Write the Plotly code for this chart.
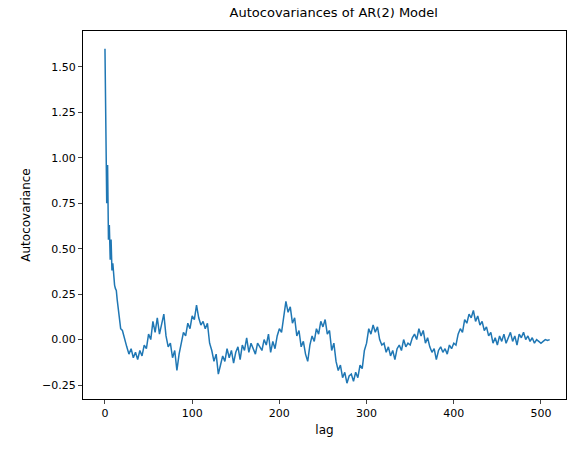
import numpy as np
import plotly.graph_objects as go

# early lags, one per lag
head_acov = [1.6, 1.15, 0.75, 0.96, 0.55, 0.63, 0.44, 0.55, 0.38, 0.42, 0.33, 0.3,
             0.28, 0.27, 0.22, 0.17, 0.12, 0.1, 0.06]
# lags 20..510 every 2.5
tail_acov = [
    0.05, 0.0, -0.04, -0.08, -0.05, -0.1, -0.07, -0.11, -0.06, -0.09, -0.03, -0.05,
    0.03, 0.0, 0.1, 0.04, 0.12, 0.03, 0.08, 0.14, 0.02, -0.04, -0.02, -0.1,
    -0.06, -0.17, -0.08, -0.02, 0.04, 0.02, 0.09, 0.06, 0.13, 0.11, 0.19, 0.12,
    0.08, 0.1, 0.06, 0.09, -0.02, -0.06, -0.12, -0.08, -0.19, -0.14, -0.09, -0.12,
    -0.05, -0.1, -0.06, -0.13, -0.07, -0.04, -0.11, -0.03, -0.06, 0.01, -0.07, -0.02,
    -0.05, -0.08, -0.02, -0.04, -0.06, 0.0, -0.03, 0.03, -0.07, -0.01, -0.05, 0.02,
    0.06, 0.04, 0.13, 0.21, 0.15, 0.18, 0.09, 0.12, 0.02, 0.05, -0.04, -0.01,
    -0.08, -0.12, -0.03, 0.02, -0.01, 0.06, 0.03, 0.1, 0.07, 0.11, 0.03, 0.05,
    -0.06, -0.02, -0.12, -0.17, -0.14, -0.21, -0.18, -0.24, -0.2, -0.19, -0.23, -0.18,
    -0.21, -0.14, -0.16, -0.06, -0.02, 0.06, 0.03, 0.08, 0.04, 0.07, 0.0, -0.03,
    -0.02, -0.07, -0.04, -0.09, -0.06, -0.11, -0.05, -0.03, -0.06, 0.0, -0.04, -0.02,
    -0.03, 0.01, 0.03, 0.0, 0.06, 0.02, 0.05, -0.02, 0.01, -0.04, -0.07, -0.05,
    -0.11, -0.06, -0.04, -0.07, -0.05, -0.08, -0.03, -0.05, -0.02, -0.03, 0.03, 0.06,
    0.04, 0.11, 0.09, 0.14, 0.12, 0.16, 0.1, 0.13, 0.08, 0.1, 0.05, 0.07,
    0.02, 0.04, -0.02, 0.01, -0.03, 0.02, -0.01, 0.03, -0.02, 0.01, 0.04, -0.01,
    0.02, -0.03, 0.03, 0.01, 0.04, 0.0, 0.02, -0.01, 0.01, -0.02, 0.0, -0.01,
    -0.02, -0.01, 0.0, -0.005, 0.0,
]

lags = list(range(len(head_acov))) + [20 + 2.5 * i for i in range(len(tail_acov))]
acov = head_acov + tail_acov

fig = go.Figure(go.Scatter(x=lags, y=acov, mode="lines",
                           line=dict(color="#1f77b4", width=1.5)))

axis = dict(showline=True, linecolor="black", linewidth=1, mirror=True,
            ticks="outside", ticklen=4, showgrid=False, zeroline=False,
            tickfont=dict(size=11, color="black"))
fig.update_layout(
    width=587, height=455,
    font=dict(family="DejaVu Sans", color="black"),
    paper_bgcolor="white", plot_bgcolor="white",
    margin=dict(l=75, r=29, t=23, b=64),
    showlegend=False,
    title=dict(text="Autocovariances of AR(2) Model", x=0.555, xanchor="center",
               y=0.991, yanchor="middle", font=dict(size=13)),
)
fig.update_xaxes(axis, range=[-25.2, 528.7], tickvals=[0, 100, 200, 300, 400, 500],
                 title=dict(text="lag", font=dict(size=12), standoff=6))
fig.update_yaxes(axis, range=[-0.327, 1.698],
                 tickvals=[-0.25, 0, 0.25, 0.5, 0.75, 1.0, 1.25, 1.5],
                 ticktext=["−0.25", "0.00", "0.25", "0.50", "0.75", "1.00", "1.25", "1.50"],
                 title=dict(text="Autocovariance", font=dict(size=12), standoff=8))

fig.write_html("out.html")
